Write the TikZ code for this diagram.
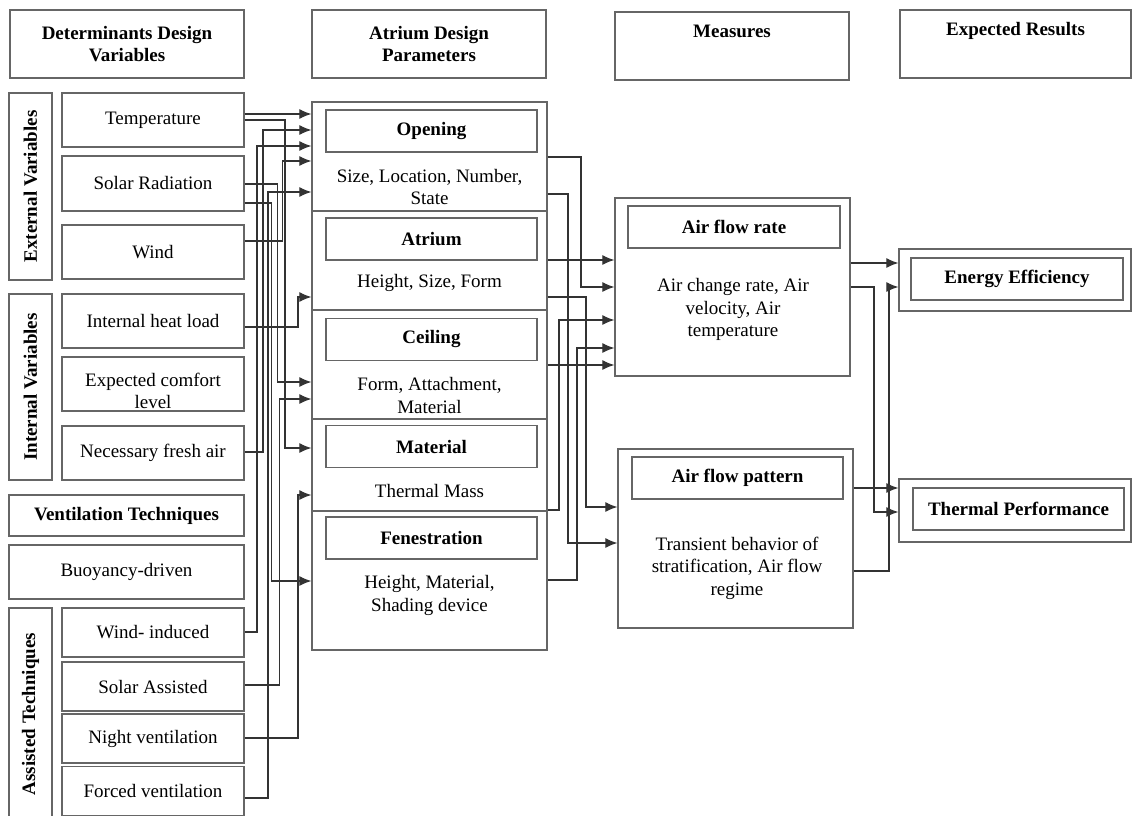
\documentclass[tikz,border=0pt]{standalone}
\usepackage{fontspec}
\setmainfont{Liberation Serif}
\usetikzlibrary{arrows.meta}

\begin{document}
\begin{tikzpicture}[x=1pt, y=-1pt,
    font=\fontsize{19}{22.5}\selectfont,
    frame/.style={draw=black!60, line width=1.3pt, align=center, inner sep=0pt},
    bold/.style={font=\fontsize{19}{22.5}\selectfont\bfseries},
    head/.style={frame, bold, minimum width=234, minimum height=68},
    side/.style={frame, bold, rotate=90, minimum height=43},
    var/.style={frame, minimum width=182, minimum height=54},
    sect/.style={frame, minimum width=235},
    title/.style={frame, bold, minimum width=211, minimum height=42},
    txt/.style={align=center},
    arr/.style={draw=black!80, line width=1.1pt, -{Latex[length=12pt,width=10pt]}}]
  \useasboundingbox (0,0) rectangle (1132,816);

  % header row
  \node[head] (hdDet) at (127,44) {Determinants Design\\Variables};
  \node[head] (hdAtr) at (429,44) {Atrium Design\\Parameters};
  \node[head] (hdMea) at (732,46) {Measures\\\strut};
  \node[head, minimum width=231] (hdRes) at (1015.5,44) {Expected Results\\\strut};

  % determinants design variables
  \node[side, minimum width=187] (extV) at (30.5,186.5) {External Variables};
  \node[var] (temp) at (153,120) {Temperature};
  \node[var, minimum height=55] (solar) at (153,183.5) {Solar Radiation};
  \node[var] (wind) at (153,252) {Wind};
  \node[side, minimum width=186] (intV) at (30.5,387) {Internal Variables};
  \node[var] (heat) at (153,321) {Internal heat load};
  \node[var] (comfort) at (153,384) {};
  \node[txt] (dComfort) at (153,391) {Expected comfort\\level};
  \node[var] (fresh) at (153,453) {Necessary fresh air};
  \node[frame, bold, minimum width=235, minimum height=41] (ventT) at (126.5,515.5) {Ventilation Techniques};
  \node[frame, minimum width=235, minimum height=54] (buoy) at (126.5,572) {Buoyancy-driven};
  \node[side, minimum width=212] (assV) at (30.5,714) {Assisted Techniques};
  \node[var, minimum height=49] (wind2) at (153,632.5) {Wind- induced};
  \node[var, minimum height=49] (solar2) at (153,686.5) {Solar Assisted};
  \node[var, minimum height=49] (night) at (153,738.5) {Night ventilation};
  \node[var, minimum height=49] (forced) at (153,791) {Forced ventilation};

  % atrium design parameters
  \node[sect, minimum height=109] (secOpen) at (429.5,156.5) {};
  \node[sect, minimum height=99] (secAtr) at (429.5,260.5) {};
  \node[sect, minimum height=109] (secCeil) at (429.5,364.5) {};
  \node[sect, minimum height=92] (secMat) at (429.5,465) {};
  \node[sect, minimum height=139] (secFen) at (429.5,580.5) {};
  \node[title] (tOpen) at (431.5,131) {Opening};
  \node[txt] (dOpen) at (429.5,187) {Size, Location, Number,\\State};
  \node[title] (tAtr) at (431.5,239) {Atrium};
  \node[txt] (dAtr) at (429.5,283) {Height, Size, Form};
  \node[title] (tCeil) at (431.5,339.5) {Ceiling};
  \node[txt] (dCeil) at (429.5,395.5) {Form, Attachment,\\Material};
  \node[title] (tMat) at (431.5,446.5) {Material};
  \node[txt] (dMat) at (429.5,491) {Thermal Mass};
  \node[title] (tFen) at (431.5,538) {Fenestration};
  \node[txt] (dFen) at (429.5,595.5) {Height, Material,\\Shading device};

  % measures
  \node[frame, minimum width=235, minimum height=178] (afr) at (732.5,287) {};
  \node[title, minimum width=212] (tAfr) at (734,227) {Air flow rate};
  \node[txt] (dAfr) at (733,309.5) {Air change rate, Air\\velocity, Air\\temperature};
  \node[frame, minimum width=235, minimum height=179] (afp) at (735.5,538.5) {};
  \node[title] (tAfp) at (737.5,478) {Air flow pattern};
  \node[txt] (dAfp) at (737,568) {Transient behavior of\\stratification, Air flow\\regime};

  % expected results
  \node[frame, minimum width=232, minimum height=62] (ee) at (1015,280) {};
  \node[title, minimum width=212] (tEe) at (1017,279) {Energy Efficiency};
  \node[frame, minimum width=232, minimum height=63] (tp) at (1015,510.5) {};
  \node[title] (tTp) at (1018.5,509) {Thermal Performance};

  % determinants -> atrium design parameters
  \draw[arr] (temp.east |- 0,114) -- (secOpen.west |- 0,114);
  \draw[arr] (temp.east |- 0,120) -| (285,448) -- (secMat.west |- 0,448);
  \draw[arr] (solar.east |- 0,184) -| (277.5,382) -- (secCeil.west |- 0,382);
  \draw[arr] (solar.east |- 0,203) -| (271.5,581) -- (secFen.west |- 0,581);
  \draw[arr] (wind.east |- 0,241) -| (282.5,161) -- (secOpen.west |- 0,161);
  \draw[arr] (heat.east |- 0,327) -| (298,297) -- (secAtr.west |- 0,297);
  \draw[arr] (fresh.east |- 0,452) -| (263,130) -- (secOpen.west |- 0,130);
  \draw[arr] (wind2.east |- 0,632) -| (257,146) -- (secOpen.west |- 0,146);
  \draw[arr] (solar2.east |- 0,685) -| (279.5,399) -- (secCeil.west |- 0,399);
  \draw[arr] (night.east |- 0,738) -| (298,495) -- (secMat.west |- 0,495);
  \draw[arr] (forced.east |- 0,798) -| (268,192) -- (secOpen.west |- 0,192);

  % atrium design parameters -> measures
  \draw[arr] (secAtr.east |- 0,260) -- (afr.west |- 0,260);
  \draw[arr] (secOpen.east |- 0,157) -| (581,287) -- (afr.west |- 0,287);
  \draw[arr] (secOpen.east |- 0,194) -| (568,543) -- (afp.west |- 0,543);
  \draw[arr] (secAtr.east |- 0,297) -| (586,507) -- (afp.west |- 0,507);
  \draw[arr] (secMat.east |- 0,510) -| (559,320) -- (afr.west |- 0,320);
  \draw[arr] (secFen.east |- 0,580) -| (577,348) -- (afr.west |- 0,348);
  \draw[arr] (secCeil.east |- 0,365) -- (afr.west |- 0,365);

  % measures -> expected results
  \draw[arr] (afr.east |- 0,263) -- (ee.west |- 0,263);
  \draw[arr] (afr.east |- 0,287) -| (874,512) -- (tp.west |- 0,512);
  \draw[arr] (afp.east |- 0,488) -- (tp.west |- 0,488);
  \draw[arr] (afp.east |- 0,571) -| (889,287) -- (ee.west |- 0,287);
\end{tikzpicture}
\end{document}
